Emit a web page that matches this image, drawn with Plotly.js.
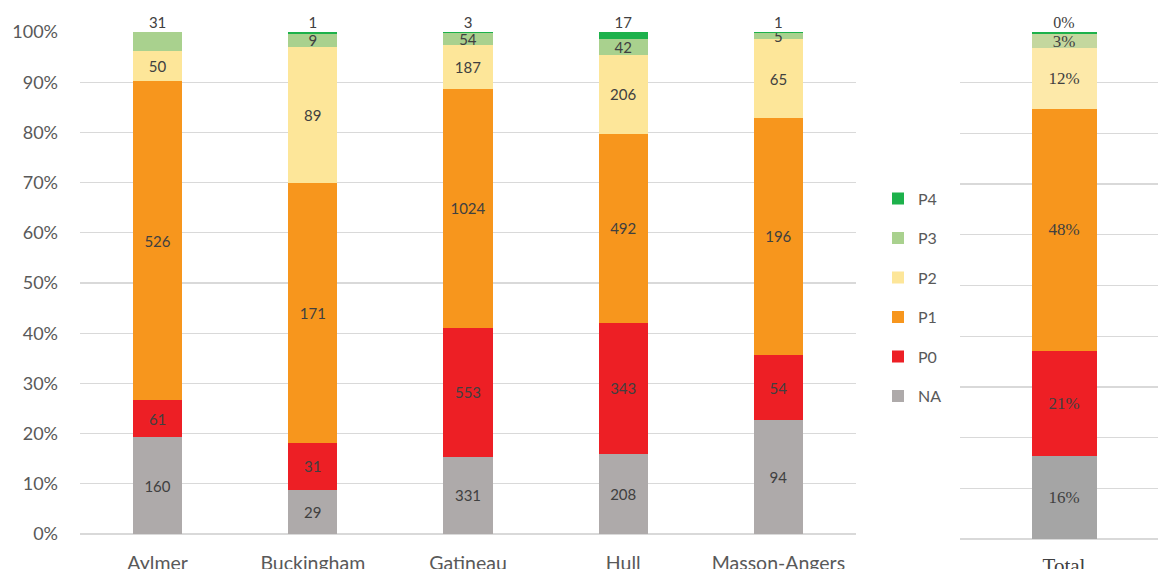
<!DOCTYPE html>
<html>
<head>
<meta charset="utf-8">
<script src="https://cdn.plot.ly/plotly-3.0.1.min.js"></script>
<style>html,body{margin:0;padding:0;background:#fff;}#chart{width:1158px;height:569px;}</style>
</head>
<body>
<div id="chart"></div>
<script>
// ---- data ----
const categories = ['Aylmer', 'Buckingham', 'Gatineau', 'Hull', 'Masson-Angers'];
const NA = [160, 29, 331, 208, 94];
const P0 = [61, 31, 553, 343, 54];
const P1 = [526, 171, 1024, 492, 196];
const P2 = [50, 89, 187, 206, 65];
const P3 = [31, 9, 54, 42, 5];
const P4 = [0, 1, 3, 17, 1];
const seriesNames = ['NA', 'P0', 'P1', 'P2', 'P3', 'P4'];
const totalLabel = ['Total'];
const yTickVals = [0, 10, 20, 30, 40, 50, 60, 70, 80, 90, 100];
const yTickText = ['0%', '10%', '20%', '30%', '40%', '50%', '60%', '70%', '80%', '90%', '100%'];

// ---- styles ----
const colorsLeft = ['#aeaaaa', '#ed1f25', '#f7961d', '#fde699', '#a9d18e', '#1db14b'];
const colorsTotal = ['#a5a5a5', '#ee1f25', '#f7961d', '#fde9a9', '#c4d79e', '#1db14b'];
const sans = 'Lato, "Open Sans", sans-serif';
const serif = '"Liberation Serif", "DejaVu Serif", serif';
const labelColor = '#404040';
const tickColor = '#595959';

const series = [NA, P0, P1, P2, P3, P4];

// text for left bars: P4 shown above the bar; P3 shown inside only when P4 present
function leftText(si) {
  return series[si].map((v, i) => {
    if (si === 5) return '';
    if (si === 4) return P4[i] > 0 ? String(v) : '';
    return String(v);
  });
}
const topLabels = categories.map((c, i) => String(P4[i] > 0 ? P4[i] : P3[i]));

const totals = series.map(s => s.reduce((a, b) => a + b, 0));
const grand = totals.reduce((a, b) => a + b, 0);
const totalPct = totals.map(v => Math.round(v / grand * 100) + '%');

const traces = [];
seriesNames.forEach((name, si) => {
  traces.push({
    type: 'bar', name: name, x: categories, y: series[si],
    xaxis: 'x', yaxis: 'y', width: 0.316,
    marker: {color: colorsLeft[si], line: {width: 0}},
    text: leftText(si), textposition: 'inside', insidetextanchor: 'middle',
    textangle: 0, constraintext: 'none',
    textfont: {family: sans, size: 15, color: labelColor},
    legendgroup: name, legendrank: seriesNames.length - si,
    showlegend: true, hoverinfo: 'name+y'
  });
});
seriesNames.forEach((name, si) => {
  traces.push({
    type: 'bar', name: name, x: totalLabel, y: [totals[si]],
    xaxis: 'x2', yaxis: 'y2', width: 0.325,
    marker: {color: colorsTotal[si], line: {width: 0}},
    text: [si === 5 ? '' : totalPct[si]], textposition: 'inside', insidetextanchor: 'middle',
    textangle: 0, constraintext: 'none',
    textfont: {family: serif, size: 17, color: labelColor},
    legendgroup: name, showlegend: false, hoverinfo: 'name+y'
  });
});
// labels above bars
traces.push({
  type: 'scatter', mode: 'text', x: categories, y: categories.map(() => 100),
  text: topLabels, textposition: 'top center',
  textfont: {family: sans, size: 15, color: labelColor},
  xaxis: 'x', yaxis: 'y', showlegend: false, hoverinfo: 'skip', cliponaxis: false
});
traces.push({
  type: 'scatter', mode: 'text', x: totalLabel, y: [100],
  text: [totalPct[5]], textposition: 'top center',
  textfont: {family: serif, size: 16, color: labelColor},
  xaxis: 'x2', yaxis: 'y2', showlegend: false, hoverinfo: 'skip', cliponaxis: false
});

const W = 1158, plotTop = 32, plotBottom = 539;
const ph = plotBottom - plotTop;

const layout = {
  width: W, height: 569,
  margin: {l: 0, r: 0, t: plotTop, b: 569 - plotBottom, pad: 0},
  paper_bgcolor: '#ffffff', plot_bgcolor: 'rgba(0,0,0,0)',
  barmode: 'stack', barnorm: 'percent',
  font: {family: sans, color: tickColor},
  showlegend: true,
  legend: {
    x: 878 / W, xanchor: 'left', y: (plotBottom - 181.5) / ph, yanchor: 'top',
    traceorder: 'grouped', tracegroupgap: 15.7,
    font: {family: sans, size: 16, color: tickColor},
    bgcolor: 'rgba(0,0,0,0)', borderwidth: 0
  },
  xaxis: {
    domain: [80 / W, 856 / W], anchor: 'y', type: 'category', range: [-0.5, 4.5],
    showline: false, ticks: '', showgrid: false, zeroline: false,
    tickfont: {family: sans, size: 19.5, color: tickColor}, ticklabelstandoff: 15,
    automargin: false, fixedrange: true
  },
  yaxis: {
    domain: [5 / ph, 1], anchor: 'x', range: [0, 100],
    tickmode: 'array', tickvals: yTickVals, ticktext: yTickText,
    showgrid: true, gridcolor: '#d9d9d9', gridwidth: 1.3,
    zeroline: true, zerolinecolor: '#d9d9d9', zerolinewidth: 1.3,
    showline: false, ticks: '',
    tickfont: {family: sans, size: 18, color: tickColor}, ticklabelstandoff: 21,
    automargin: false, fixedrange: true
  },
  xaxis2: {
    domain: [960 / W, 1], anchor: 'y2', type: 'category', range: [-0.52, 0.47],
    showline: false, ticks: '', showgrid: false, zeroline: false,
    tickfont: {family: serif, size: 21, color: labelColor}, ticklabelstandoff: 12,
    automargin: false, fixedrange: true
  },
  yaxis2: {
    domain: [0, 1], anchor: 'x2', range: [0, 100],
    tickmode: 'array', tickvals: yTickVals,
    showgrid: true, gridcolor: '#d9d9d9', gridwidth: 1.3,
    zeroline: true, zerolinecolor: '#d9d9d9', zerolinewidth: 1.3,
    showline: false, ticks: '', showticklabels: false,
    automargin: false, fixedrange: true
  }
};

Plotly.newPlot('chart', traces, layout, {staticPlot: true, displayModeBar: false});
</script>
</body>
</html>
